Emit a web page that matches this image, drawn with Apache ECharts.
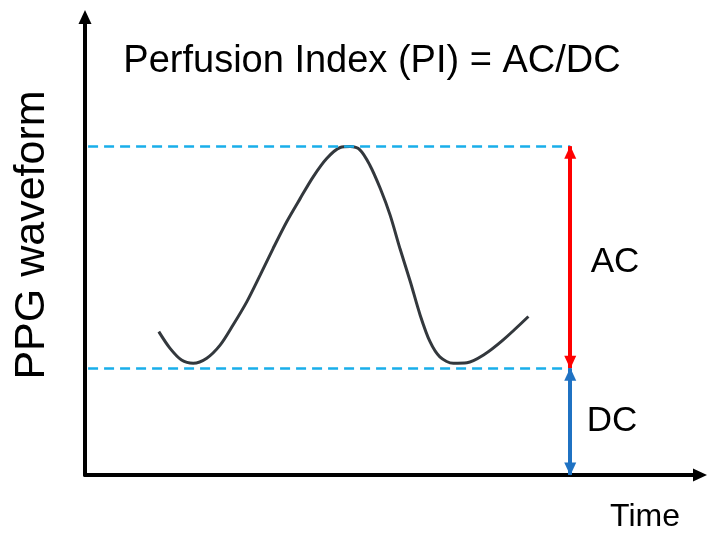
<!DOCTYPE html>
<html>
<head>
<meta charset="utf-8">
<script src="https://cdn.jsdelivr.net/npm/echarts@6/dist/echarts.min.js"></script>
<style>
  html, body { margin: 0; padding: 0; background: #fff; }
  #chart { width: 708px; height: 535px; }
</style>
</head>
<body>
<div id="chart"></div>
<script>
// waveform samples (time, amplitude in axis units 0..100)
const timeVals = [12.0, 13.8, 15.7, 17.6, 19.8, 22.0, 24.1, 26.3, 28.5, 30.6, 32.8, 35.0, 37.1, 39.3, 41.5, 43.1,
  44.7, 46.3, 48.0, 49.6, 51.2, 52.9, 54.5, 56.1, 57.7, 59.9, 62.1, 64.8, 68.0, 72.1];
const ppgVals = [31.3, 27.7, 25.1, 24.4, 25.5, 28.4, 32.8, 37.8, 43.7, 49.5, 55.3, 60.4, 65.1, 69.1, 71.5, 71.7,
  71.0, 67.7, 62.6, 56.8, 49.5, 42.2, 34.9, 29.1, 25.8, 24.4, 24.5, 26.2, 29.5, 34.6];

// levels of the pulse
const peakLevel = 71.8;
const baseLevel = 23.3;
const levelStart = 0.5;
const arrowTime = 78.9;

const labels = {
  title: 'Perfusion Index (PI) = AC/DC',
  yName: 'PPG waveform',
  xName: 'Time',
  ac: 'AC',
  dc: 'DC'
};

const chart = echarts.init(document.getElementById('chart'));

const font = '"Liberation Sans", Arial, sans-serif';

const options = {
  animation: false,
  backgroundColor: '#fff',
  grid: { left: 85, right: 8, top: 17, bottom: 60 },
  xAxis: {
    type: 'value',
    min: 0,
    max: 100,
    axisLine: {
      lineStyle: { color: '#000', width: 4 },
      symbol: ['none', 'triangle'],
      symbolSize: [13, 14]
    },
    axisTick: { show: false },
    axisLabel: { show: false },
    splitLine: { show: false }
  },
  yAxis: {
    type: 'value',
    min: 0,
    max: 100,
    axisLine: {
      show: true,
      lineStyle: { color: '#000', width: 4 },
      symbol: ['none', 'triangle'],
      symbolSize: [13, 14]
    },
    axisTick: { show: false },
    axisLabel: { show: false },
    splitLine: { show: false }
  },
  series: [
    {
      name: 'PPG',
      type: 'line',
      smooth: 0.3,
      showSymbol: false,
      data: timeVals.map((t, i) => [t, ppgVals[i]]),
      lineStyle: { color: '#33383d', width: 3 },
      silent: true,
      z: 3
    },
    {
      name: 'levels',
      type: 'line',
      data: [],
      markLine: {
        silent: true,
        symbol: ['none', 'none'],
        label: { show: false },
        lineStyle: { color: '#19aeea', width: 2.5, type: [10, 6] },
        data: [
          [{ coord: [levelStart, peakLevel] }, { coord: [arrowTime, peakLevel] }],
          [{ coord: [levelStart, baseLevel] }, { coord: [arrowTime, baseLevel] }]
        ]
      }
    },
    {
      name: 'AC',
      type: 'line',
      data: [],
      markLine: {
        silent: true,
        symbol: ['triangle', 'triangle'],
        symbolSize: [12, 13],
        symbolOffset: [[0, 6], [0, 6]],
        label: { show: false },
        lineStyle: { color: '#ff0000', width: 4, type: 'solid' },
        data: [
          [{ coord: [arrowTime, baseLevel] }, { coord: [arrowTime, peakLevel] }]
        ]
      },
      z: 4
    },
    {
      name: 'DC',
      type: 'line',
      data: [],
      markLine: {
        silent: true,
        symbol: ['triangle', 'triangle'],
        symbolSize: [12, 13],
        symbolOffset: [[0, 6], [0, 6]],
        label: { show: false },
        lineStyle: { color: '#1f72c3', width: 4, type: 'solid' },
        data: [
          [{ coord: [arrowTime, 0] }, { coord: [arrowTime, baseLevel] }]
        ]
      },
      z: 4
    }
  ],
  graphic: [
    {
      type: 'text', x: 372, y: 62,
      style: { text: labels.title, font: '38px ' + font, fill: '#000', align: 'center', verticalAlign: 'middle' }
    },
    {
      type: 'text', x: 32, y: 235, rotation: Math.PI / 2,
      style: { text: labels.yName, font: '43px ' + font, fill: '#000', align: 'center', verticalAlign: 'middle' }
    },
    {
      type: 'text', x: 645, y: 517,
      style: { text: labels.xName, font: '32px ' + font, fill: '#000', align: 'center', verticalAlign: 'middle' }
    },
    {
      type: 'text', x: 615, y: 262,
      style: { text: labels.ac, font: '35px ' + font, fill: '#000', align: 'center', verticalAlign: 'middle' }
    },
    {
      type: 'text', x: 612, y: 421,
      style: { text: labels.dc, font: '35px ' + font, fill: '#000', align: 'center', verticalAlign: 'middle' }
    }
  ]
};

chart.setOption(options);
</script>
</body>
</html>
